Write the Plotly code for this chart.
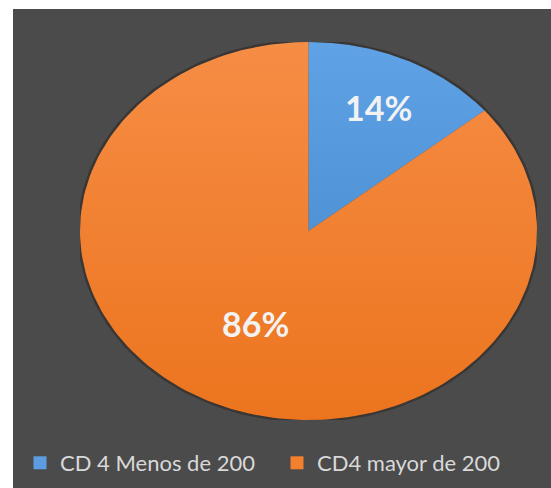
import numpy as np
import plotly.graph_objects as go

# Share of patients by CD4 count
categories = ["CD 4 Menos de 200", "CD4 mayor de 200"]
values = [14, 86]
slice_colors = ["#5B9DE0", "#F3802F"]
# light-to-dark shading for each slice (top -> bottom)
slice_shades = [("#5FA2E6", "#4F92D6"), ("#F68D45", "#EC741E")]
label_radius = [0.72, 0.54]

W, H = 551, 488
bg = "#4B4B4B"

fig = go.Figure()

# soft dark rim around the pie
t = np.linspace(0, 2 * np.pi, 361)
fig.add_trace(go.Scatter(
    x=np.cos(t), y=np.sin(t), mode="lines",
    line=dict(color="rgba(35,28,24,0.45)", width=5),
    hoverinfo="skip", showlegend=False,
))

total = float(sum(values))
start = 0.0  # degrees clockwise from 12 o'clock
annotations = []
for name, v, col, (c_top, c_bot), rr in zip(categories, values, slice_colors, slice_shades, label_radius):
    span = 360.0 * v / total
    a = np.radians(np.linspace(start, start + span, 200))
    xs = np.concatenate([[0], np.sin(a), [0]])
    ys = np.concatenate([[0], np.cos(a), [0]])
    fig.add_trace(go.Scatter(
        x=xs, y=ys, mode="lines", fill="toself", fillcolor=col,
        fillgradient=dict(type="vertical", colorscale=[[0, c_bot], [1, c_top]]),
        line=dict(width=0, color=col), hoverinfo="skip",
        showlegend=False, name=name,
    ))
    mid = np.radians(start + span / 2)
    annotations.append(dict(
        x=rr * np.sin(mid), y=rr * np.cos(mid), xref="x", yref="y",
        text=f"{round(100 * v / total)}%", showarrow=False,
        font=dict(family="Lato", size=34, color="#F2F2F2", weight="bold"),
    ))
    start += span

# legend entries with square swatches
for name, col in zip(categories, slice_colors):
    fig.add_trace(go.Scatter(
        x=[None], y=[None], mode="markers", name=name,
        marker=dict(symbol="square", size=13, color=col),
    ))

fig.update_layout(
    width=W, height=H,
    margin=dict(l=0, r=0, t=0, b=0),
    paper_bgcolor="white", plot_bgcolor="rgba(0,0,0,0)",
    xaxis=dict(domain=[80 / W, 537 / W], range=[-1, 1], visible=False, fixedrange=True),
    yaxis=dict(domain=[1 - 420 / H, 1 - 42 / H], range=[-1, 1], visible=False, fixedrange=True),
    shapes=[dict(type="rect", xref="paper", yref="paper", x0=13 / W, x1=1, y0=0, y1=1 - 9 / H,
                 fillcolor=bg, line=dict(width=0), layer="below")],
    annotations=annotations,
    showlegend=True,
    legend=dict(
        orientation="h", x=20 / W, xanchor="left", y=1 - 463 / H, yanchor="middle",
        entrywidth=212, entrywidthmode="pixels",
        font=dict(family="Lato", size=22, color="#D9D9D9"),
        bgcolor="rgba(0,0,0,0)",
    ),
)

fig.write_html("out.html")
